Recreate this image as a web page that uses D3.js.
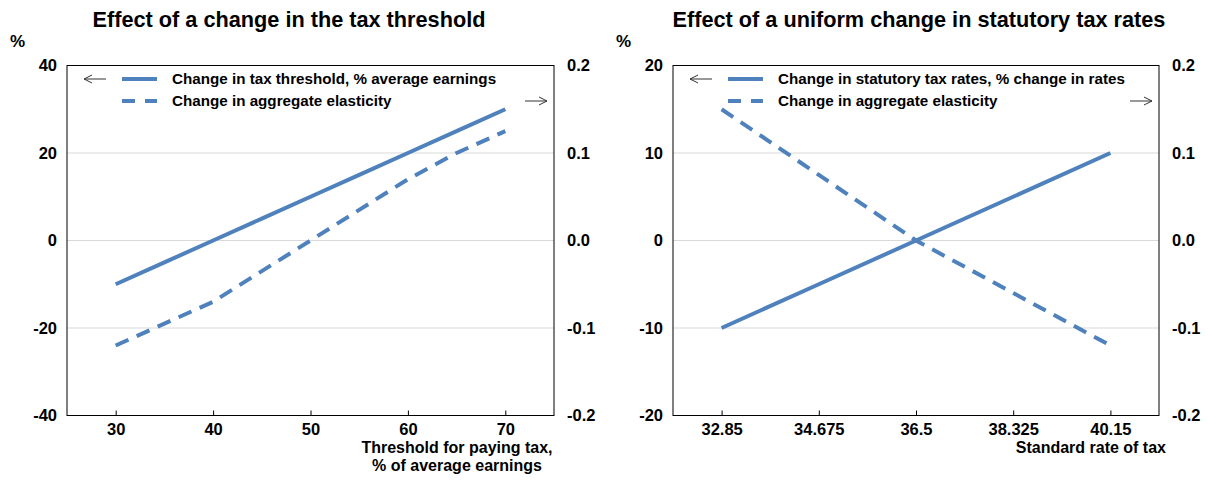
<!DOCTYPE html>
<html>
<head>
<meta charset="utf-8">
<script src="https://cdn.jsdelivr.net/npm/d3@7"></script>
<style>
  body { margin: 0; background: #fff; }
  svg text { font-family: "Liberation Sans", Arial, sans-serif; fill: #000; }
</style>
</head>
<body>
<svg id="chart" width="1208" height="480"></svg>
<script>
// Left panel: effect of a change in the tax threshold
var thresholdX = [30, 35, 40, 45, 50, 55, 60, 65, 70];
var thresholdChange = [-10, -5, 0, 5, 10, 15, 20, 25, 30];
var thresholdElasticity = [-0.12, -0.095, -0.07, -0.035, 0, 0.035, 0.07, 0.1, 0.125];

// Right panel: effect of a uniform change in statutory tax rates
var rateX = [32.85, 34.675, 36.5, 38.325, 40.15];
var rateChange = [-10, -5, 0, 5, 10];
var rateElasticity = [0.15, 0.075, 0, -0.06, -0.12];

// Tick labels
var thresholdLeftTicks = [-40, -20, 0, 20, 40];
var rateLeftTicks = [-20, -10, 0, 10, 20];
var rightTicks = [-0.2, -0.1, 0, 0.1, 0.2];
var thresholdXTicks = [30, 40, 50, 60, 70];
var rateXTicks = [32.85, 34.675, 36.5, 38.325, 40.15];

var blue = '#4f81bd';
var tickFont = '16.5px';
var svg = d3.select('#chart');

// thin arrow: line with an open chevron head
function arrow(g, x1, x2, y) {
  var dir = x2 > x1 ? 1 : -1;
  g.append('path')
    .attr('d', 'M' + x1 + ',' + y + 'H' + x2 +
      'M' + (x2 - dir * 8) + ',' + (y - 4) + 'L' + x2 + ',' + y + 'L' + (x2 - dir * 8) + ',' + (y + 4))
    .attr('fill', 'none').attr('stroke', '#333').attr('stroke-width', 1);
}

function drawPanel(p) {
  var g = svg.append('g');

  var x = d3.scaleLinear().domain(p.xDomain).range([p.left, p.right]);
  var yL = d3.scaleLinear().domain(p.yDomain).range([p.bottom, p.top]);
  var yR = d3.scaleLinear().domain([-0.2, 0.2]).range([p.bottom, p.top]);

  // title
  g.append('text')
    .attr('x', p.titleX).attr('y', 27)
    .attr('text-anchor', 'middle')
    .style('font-size', '21.7px').style('font-weight', 'bold')
    .text(p.title);

  g.append('text')
    .attr('x', p.left - 57).attr('y', 47)
    .style('font-size', '17px').style('font-weight', 'bold')
    .text('%');

  // gridlines (inner ticks only)
  g.selectAll('line.grid')
    .data(p.leftTicks.slice(1, -1))
    .enter().append('line')
    .attr('x1', p.left).attr('x2', p.right)
    .attr('y1', function(d){ return yL(d); })
    .attr('y2', function(d){ return yL(d); })
    .attr('stroke', '#d9d9d9').attr('stroke-width', 1);

  // left axis labels
  g.append('g')
    .attr('transform', 'translate(' + p.left + ',0)')
    .call(d3.axisLeft(yL).tickValues(p.leftTicks).tickSize(0).tickPadding(10)
      .tickFormat(function(d){ return String(d); }))
    .call(function(a){ a.select('.domain').remove(); })
    .selectAll('text')
      .style('font-size', tickFont).style('font-weight', 'bold')
      .style('font-family', '"Liberation Sans", Arial, sans-serif');

  // right axis labels
  g.append('g')
    .attr('transform', 'translate(' + p.right + ',0)')
    .call(d3.axisRight(yR).tickValues(rightTicks).tickSize(0).tickPadding(13)
      .tickFormat(function(d){ return d.toFixed(1); }))
    .call(function(a){ a.select('.domain').remove(); })
    .selectAll('text')
      .style('font-size', tickFont).style('font-weight', 'bold')
      .style('font-family', '"Liberation Sans", Arial, sans-serif');

  // bottom axis: inward ticks
  var xa = g.append('g')
    .attr('transform', 'translate(0,' + p.bottom + ')')
    .call(d3.axisBottom(x).tickValues(p.xTicks).tickSize(-5).tickPadding(8)
      .tickFormat(function(d){ return String(d); }));
  xa.select('.domain').remove();
  xa.selectAll('.tick line').attr('stroke', '#000');
  xa.selectAll('text')
    .style('font-size', tickFont).style('font-weight', 'bold')
    .style('font-family', '"Liberation Sans", Arial, sans-serif');

  // frame
  g.append('rect')
    .attr('x', p.left).attr('y', p.top)
    .attr('width', p.right - p.left).attr('height', p.bottom - p.top)
    .attr('fill', 'none').attr('stroke', '#000').attr('stroke-width', 1);

  // x axis title
  var xt = g.append('text')
    .attr('text-anchor', p.xTitleAnchor)
    .style('font-size', '16px').style('font-weight', 'bold');
  p.xTitle.forEach(function(line, i){
    xt.append('tspan').attr('x', p.xTitleX).attr('y', 453 + i * 18).text(line);
  });

  // series
  var solid = d3.line()
    .x(function(d){ return x(d[0]); })
    .y(function(d){ return yL(d[1]); });
  var dashed = d3.line()
    .x(function(d){ return x(d[0]); })
    .y(function(d){ return yR(d[1]); });

  g.append('path')
    .datum(d3.zip(p.xs, p.dashedValues))
    .attr('d', dashed)
    .attr('fill', 'none').attr('stroke', blue)
    .attr('stroke-width', 4).attr('stroke-dasharray', '14,9');

  g.append('path')
    .datum(d3.zip(p.xs, p.solidValues))
    .attr('d', solid)
    .attr('fill', 'none').attr('stroke', blue)
    .attr('stroke-width', 4);

  // legend
  var lx = p.left + 17;
  var leg = g.append('g');
  arrow(leg, lx + 22, lx, 79);
  leg.append('line')
    .attr('x1', lx + 38).attr('x2', lx + 73).attr('y1', 79).attr('y2', 79)
    .attr('stroke', blue).attr('stroke-width', 4);
  leg.append('line')
    .attr('x1', lx + 38).attr('x2', lx + 73).attr('y1', 101).attr('y2', 101)
    .attr('stroke', blue).attr('stroke-width', 4).attr('stroke-dasharray', '13,10');
  leg.append('text').attr('x', lx + 88).attr('y', 84)
    .style('font-size', '15.2px').style('font-weight', 'bold').text(p.solidLabel);
  leg.append('text').attr('x', lx + 88).attr('y', 106)
    .style('font-size', '15.2px').style('font-weight', 'bold').text('Change in aggregate elasticity');
  arrow(leg, p.right - 29, p.right - 7, 101);
}

drawPanel({
  title: 'Effect of a change in the tax threshold',
  titleX: 289,
  left: 67, right: 554, top: 65.5, bottom: 415.5,
  xDomain: [25, 75], yDomain: [-40, 40],
  leftTicks: thresholdLeftTicks, xTicks: thresholdXTicks,
  xs: thresholdX, solidValues: thresholdChange, dashedValues: thresholdElasticity,
  solidLabel: 'Change in tax threshold, % average earnings',
  xTitle: ['Threshold for paying tax,', '% of average earnings'],
  xTitleX: 457, xTitleAnchor: 'middle'
});

drawPanel({
  title: 'Effect of a uniform change in statutory tax rates',
  titleX: 919,
  left: 673, right: 1159, top: 65.5, bottom: 415.5,
  xDomain: [31.9375, 41.0625], yDomain: [-20, 20],
  leftTicks: rateLeftTicks, xTicks: rateXTicks,
  xs: rateX, solidValues: rateChange, dashedValues: rateElasticity,
  solidLabel: 'Change in statutory tax rates, % change in rates',
  xTitle: ['Standard rate of tax'],
  xTitleX: 1166, xTitleAnchor: 'end'
});
</script>
</body>
</html>
